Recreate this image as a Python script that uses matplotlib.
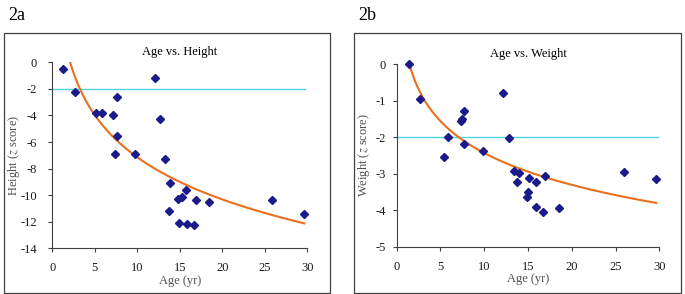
import numpy as np
import matplotlib
matplotlib.use("Agg")
import matplotlib.pyplot as plt
from matplotlib.patches import Rectangle

plt.rcParams['font.family'] = ['Liberation Serif', 'DejaVu Serif']
plt.rcParams['mathtext.fontset'] = 'stix'
plt.rcParams['axes.unicode_minus'] = False

# Panel 2a: Age vs Height
age_a = [1.29, 2.67, 5.18, 5.80, 7.18, 7.33, 7.57, 7.65, 9.69, 12.12, 12.71, 13.25,
         13.69, 13.88, 14.78, 14.86, 15.22, 15.73, 15.84, 16.63, 16.90, 18.47, 25.88, 29.65]
height_z = [-0.48, -2.21, -3.81, -3.81, -3.96, -6.87, -2.63, -5.54, -6.90, -1.15, -4.29, -7.28,
            -11.16, -9.11, -10.26, -12.12, -10.16, -9.61, -12.14, -12.27, -10.34, -10.54, -10.34, -11.44]

# Panel 2b: Age vs Weight
age_b = [1.41, 2.66, 5.37, 5.86, 7.31, 7.50, 7.65, 7.69, 9.82, 12.14, 12.83, 13.40,
         13.70, 14.00, 14.85, 15.00, 15.15, 15.91, 15.95, 16.75, 16.90, 18.50, 25.92, 29.65]
weight_z = [0.0, -0.95, -2.54, -1.99, -1.55, -1.51, -1.27, -2.18, -2.39, -0.79, -2.02, -2.93,
            -3.24, -2.99, -3.65, -3.49, -3.12, -3.23, -3.91, -4.05, -3.06, -3.95, -2.95, -3.14]

# logarithmic trendlines y = a + b*ln(x)
trend_a = (3.40, -4.58)
trend_b = (0.47, -1.26)
cutoff = -2

panels = [
    dict(label='2a', title='Age vs. Height', ylabel='Height ($\\it{z}$ score)',
         x=age_a, y=height_z, trend=trend_a, ylim=(-14, 0), yticks=np.arange(-14, 1, 2),
         box=(4, 1, 330, 293), ax=(52.3, 307.3, 62.3, 248.3), hline_end=29.7,
         ylab_x=14, xlab_y=281, ypad=8),
    dict(label='2b', title='Age vs. Weight', ylabel='Weight ($\\it{z}$ score)',
         x=age_b, y=weight_z, trend=trend_b, ylim=(-5, 0), yticks=np.arange(-5, 1, 1),
         box=(354, 1, 681, 290), ax=(396.7, 659.3, 64.3, 246.7), hline_end=30,
         ylab_x=364, xlab_y=279, ypad=5),
]

W, H = 685, 294
fig = plt.figure(figsize=(W / 100, H / 100), dpi=100)

for p in panels:
    x0, x1, y0, y1 = p['ax']
    ax = fig.add_axes([x0 / W, 1 - y1 / H, (x1 - x0) / W, (y1 - y0) / H])
    ax.set_xlim(0, 30)
    ax.set_ylim(*p['ylim'])
    ax.set_xticks(np.arange(0, 31, 5))
    ax.set_yticks(p['yticks'])
    for s in ['top', 'right']:
        ax.spines[s].set_visible(False)
    for s in ['left', 'bottom']:
        ax.spines[s].set_color('#404040')
        ax.spines[s].set_linewidth(0.8)
    ax.tick_params(direction='out', length=3, width=0.8, color='#404040',
                   labelsize=9, labelcolor='#1a1a1a')
    ax.tick_params(axis='x', pad=7)
    ax.tick_params(axis='y', pad=p['ypad'])
    ax.axhline(cutoff, xmin=0, xmax=p['hline_end'] / 30, color='#4DD2E6', lw=1.0, zorder=1)
    xs = np.linspace(min(p['x']), max(p['x']), 300)
    a, b = p['trend']
    ax.plot(xs, a + b * np.log(xs), color='#E8701E', lw=1.5, zorder=2, clip_on=True)
    ax.plot(p['x'], p['y'], linestyle='none', marker='D', markersize=4,
            color='#1A1A8A', zorder=3, clip_on=False)
    ax.set_title(p['title'], fontsize=9, pad=5)
    ax.set_xlabel('Age (yr)', fontsize=9, color='#505050')
    ax.set_ylabel(p['ylabel'], fontsize=9, color='#505050')
    ax.yaxis.set_label_coords((p['ylab_x'] - x0) / (x1 - x0), 0.5)
    ax.xaxis.set_label_coords(0.5, (y1 - p['xlab_y']) / (y1 - y0))
    ax.xaxis.label.set_va('center')
    ax.yaxis.label.set_va('center')

    bx0, by0, bx1, by1 = p['box']
    fig.patches.append(Rectangle((bx0 / W, 1 - 293 / H), (bx1 - bx0) / W, (293 - 33) / H,
                                 transform=fig.transFigure, fill=False,
                                 edgecolor='#404040', lw=0.9))
    fig.text(bx0 / W + 4 / W, 1 - 20 / H, p['label'], fontsize=13, ha='left', va='baseline')

fig.savefig('out.png', dpi=100)
